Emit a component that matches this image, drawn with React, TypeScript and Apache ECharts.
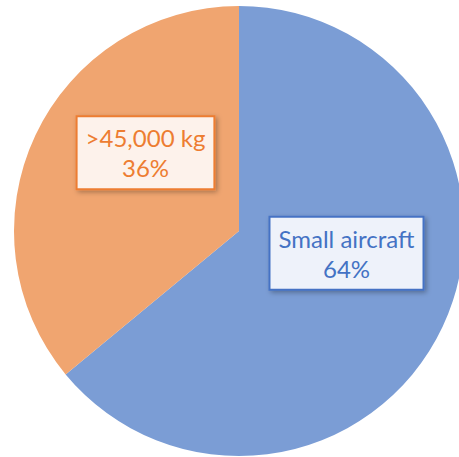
import React, { useEffect, useRef } from "react";
import * as echarts from "echarts";

const categories = ["Small aircraft", ">45,000 kg"];
const values = [64, 36];
const sliceColors = ["#7B9DD5", "#F0A570"];
const labelColors = ["#4472C4", "#ED7D31"];
const labelFills = ["#EEF2FA", "#FDF2EB"];

export default function App() {
  const ref = useRef<HTMLDivElement>(null);
  useEffect(() => {
    if (!ref.current) return;
    const chart = echarts.init(ref.current, undefined, { renderer: "svg" });
    const offsets = [
      [3, -27],
      [11, -29],
    ];
    chart.setOption({
      animation: false,
      series: [
        {
          type: "pie",
          center: [239, 231],
          radius: 225,
          startAngle: 90,
          clockwise: true,
          silent: true,
          labelLine: { show: false },
          label: {
            show: true,
            position: "inside",
            formatter: "{b}\n{d}%",
            fontFamily: "Lato, 'Open Sans', sans-serif",
            fontSize: 24,
            lineHeight: 30,
            align: "center",
            borderWidth: 2,
            padding: [6, 8, 5, 8],
            shadowColor: "rgba(0,0,0,0.3)",
            shadowBlur: 5,
            shadowOffsetX: 2,
            shadowOffsetY: 2,
          },
          labelLayout: (params: any) => ({
            dx: offsets[params.dataIndex][0],
            dy: offsets[params.dataIndex][1],
          }),
          data: categories.map((name, i) => ({
            name,
            value: values[i],
            itemStyle: { color: sliceColors[i], borderWidth: 0 },
            label: {
              color: labelColors[i],
              borderColor: labelColors[i],
              backgroundColor: labelFills[i],
            },
          })),
        },
      ],
    });
    return () => chart.dispose();
  }, []);
  return (
    <div
      ref={ref}
      style={{ position: "fixed", left: 0, top: 0, width: 459, height: 457, background: "#fff" }}
    />
  );
}
